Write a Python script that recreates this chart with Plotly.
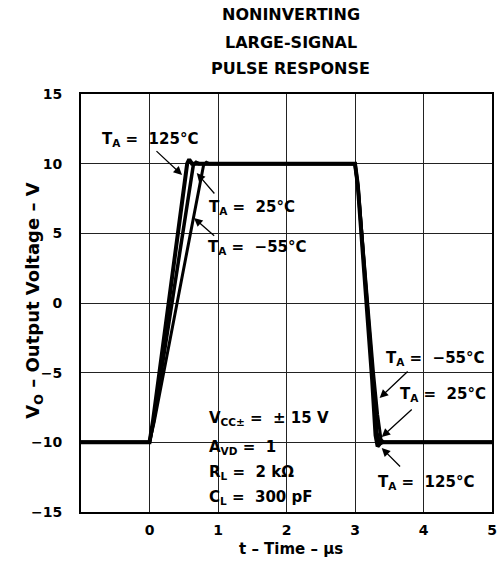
import plotly.graph_objects as go

# ---- data ----
t_125 = [-1, 0, 0.05, 0.55, 0.58, 0.62, 3.0, 3.04, 3.25, 3.30, 3.33, 3.38, 5]
v_125 = [-10, -10, -8.5, 10.0, 10.3, 10, 10, 8.5, -5.5, -9.5, -10.3, -10, -10]

t_25 = [-1, 0, 0.06, 0.64, 0.68, 0.72, 3.0, 3.045, 3.26, 3.32, 3.36, 3.40, 5]
v_25 = [-10, -10, -8.5, 9.9, 10.1, 10, 10, 8.3, -5.3, -9.3, -10.1, -10, -10]

t_m55 = [-1, 0, 0.07, 0.79, 0.83, 0.87, 3.0, 3.05, 3.27, 3.33, 3.38, 3.42, 5]
v_m55 = [-10, -10, -8.5, 9.9, 10.1, 10, 10, 8.0, -5.0, -8.0, -9.8, -10, -10]

x_ticks = [0, 1, 2, 3, 4, 5]
y_ticks = [-15, -10, -5, 0, 5, 10, 15]
y_ticktext = ["\u221215", "\u221210", "\u22125", "0", "5", "10", "15"]

title_lines = ["NONINVERTING", "LARGE-SIGNAL", "PULSE RESPONSE"]

# label text, anchor (t, V)
labels = [
    ("T<sub>A</sub> =  125°C", -0.72, 11.7),
    ("T<sub>A</sub> =  25°C", 0.84, 6.82),
    ("T<sub>A</sub> =  \u221255°C", 0.82, 3.95),
    ("T<sub>A</sub> =  \u221255°C", 3.42, -3.95),
    ("T<sub>A</sub> =  25°C", 3.63, -6.6),
    ("T<sub>A</sub> =  125°C", 3.31, -12.85),
]
# arrows: tail (t, V) -> head (t, V)
arrows = [
    (0.08, 11.0, 0.475, 9.19),
    (0.966, 7.75, 0.69, 9.33),
    (0.966, 4.74, 0.65, 6.1),
    (3.79, -4.81, 3.36, -6.82),
    (3.85, -7.54, 3.39, -9.62),
    (3.68, -11.84, 3.39, -10.41),
]
conditions = [
    ("V<sub>CC±</sub> =  ± 15 V", 0.84, -8.26),
    ("A<sub>VD</sub> =  1", 0.84, -10.34),
    ("R<sub>L</sub> =  2 kΩ", 0.84, -12.13),
    ("C<sub>L</sub> =  300 pF", 0.84, -13.93),
]

FONT = "DejaVu Sans, Liberation Sans, Arial, sans-serif"

fig = go.Figure()
fig.add_trace(go.Scatter(x=t_m55, y=v_m55, mode="lines",
                         line=dict(color="black", width=3), showlegend=False))
fig.add_trace(go.Scatter(x=t_25, y=v_25, mode="lines",
                         line=dict(color="black", width=3.5), showlegend=False))
fig.add_trace(go.Scatter(x=t_125, y=v_125, mode="lines",
                         line=dict(color="black", width=4), showlegend=False))

annotations = []
ty = [1.189, 1.124, 1.062]
for line, yy in zip(title_lines, ty):
    annotations.append(dict(text=line, xref="paper", yref="paper", x=0.51, y=yy,
                            xanchor="center", yanchor="middle", showarrow=False,
                            font=dict(size=16, family=FONT, color="black", weight="bold")))
for txt, x, y in labels + conditions:
    annotations.append(dict(text=txt, xref="x", yref="y", x=x, y=y,
                            xanchor="left", yanchor="middle", showarrow=False,
                            font=dict(size=15, family=FONT, color="black", weight="bold")))
for tx, tyy, hx, hy in arrows:
    annotations.append(dict(text="", xref="x", yref="y", x=hx, y=hy,
                            axref="x", ayref="y", ax=tx, ay=tyy, showarrow=True,
                            arrowhead=2, arrowsize=1.3, arrowwidth=1.3, arrowcolor="black"))
annotations.append(dict(text="V<sub>O</sub> \u2013 Output Voltage \u2013 V", xref="paper", yref="paper",
                        x=-0.115, y=0.505, textangle=-90, xanchor="center", yanchor="middle",
                        showarrow=False,
                        font=dict(size=18, family=FONT, color="black", weight="bold")))
annotations.append(dict(text="t \u2013 Time \u2013 µs", xref="paper", yref="paper",
                        x=0.51, y=-0.088, xanchor="center", yanchor="middle",
                        showarrow=False,
                        font=dict(size=15, family=FONT, color="black", weight="bold")))

fig.update_layout(
    width=503, height=563,
    margin=dict(l=81, r=6, t=94, b=51),
    paper_bgcolor="white", plot_bgcolor="white",
    font=dict(family=FONT, size=14, color="black", weight="bold"),
    annotations=annotations,
    showlegend=False,
)
fig.update_xaxes(range=[-1, 5], tickvals=x_ticks, ticktext=[str(v) for v in x_ticks],
                 showgrid=True, gridcolor="#222", gridwidth=1,
                 showline=True, linecolor="black", linewidth=2, mirror=True,
                 ticks="outside", ticklen=4, tickcolor="rgba(0,0,0,0)",
                 ticklabeloverflow="allow",
                 zeroline=False, tickfont=dict(size=14, family=FONT, weight="bold"))
fig.update_yaxes(range=[-15, 15], tickvals=y_ticks, ticktext=y_ticktext,
                 showgrid=True, gridcolor="#222", gridwidth=1,
                 showline=True, linecolor="black", linewidth=2, mirror=True,
                 ticks="outside", ticklen=14, tickcolor="rgba(0,0,0,0)",
                 zeroline=False, tickfont=dict(size=14, family=FONT, weight="bold"))

fig.write_html("out.html", config={"displayModeBar": False},
               post_script="document.body.style.margin='0';document.body.style.overflow='hidden';")
